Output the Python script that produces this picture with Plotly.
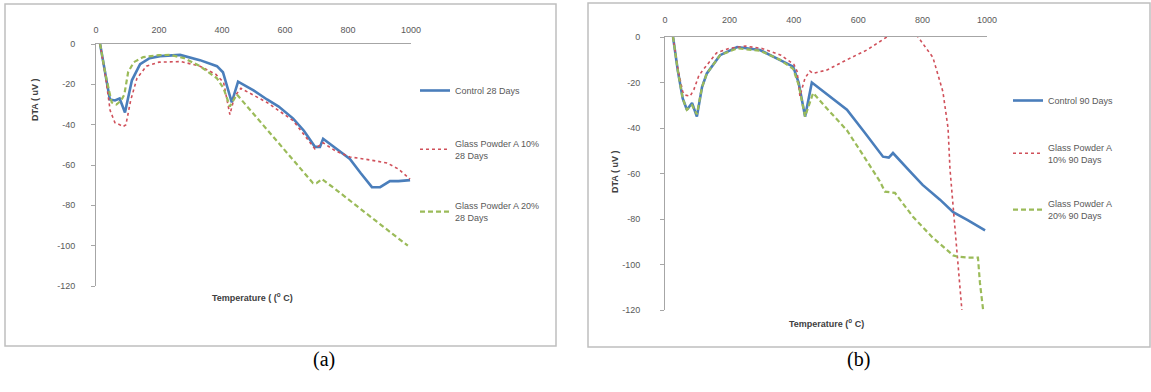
import plotly.graph_objects as go

# ---------------- data: panel (a) 28 days ----------------
temp_a_control = [13, 30, 44, 60, 75, 92, 105, 114, 140, 170, 203, 267, 330, 384, 403, 415, 431, 451,
                  500, 543, 580, 626, 660, 695, 711, 721, 760, 806, 840, 876, 902, 933, 960, 997]
dta_a_control = [0, -14, -27.5, -28, -27, -34, -24, -18, -10, -7, -6, -5.4, -8, -11, -14, -20, -29, -18.7,
                 -23, -27.5, -31, -37, -43, -51, -51, -47, -51.5, -57, -64, -71, -71, -68, -68, -67.5]

temp_a_gp10 = [13, 30, 45, 60, 75, 86, 95, 110, 130, 160, 200, 270, 330, 380, 405, 425, 440, 460,
               543, 626, 695, 721, 760, 806, 870, 924, 960, 997]
dta_a_gp10 = [0, -16, -33, -39, -40, -41, -40, -28, -17, -11, -9, -8.7, -11, -15, -19, -35, -26, -22,
              -29, -38, -52, -49, -53, -56, -57.5, -59, -62, -67]

temp_a_gp20 = [13, 30, 50, 65, 80, 90, 102, 120, 150, 200, 235, 280, 330, 384, 405, 425, 447, 500,
               560, 620, 689, 700, 717, 760, 820, 880, 940, 990]
dta_a_gp20 = [0, -15, -29, -30, -28, -25, -14, -9, -6.5, -5.5, -5.4, -7, -11, -17, -22, -31, -25, -34.6,
              -45.5, -56.5, -69, -69, -67, -72, -79.5, -86.7, -94, -100]

# ---------------- data: panel (b) 90 days ----------------
temp_b_control = [25, 40, 55, 68, 84, 99, 115, 130, 171, 224, 295, 357, 398, 415, 435, 456, 500, 565,
                  620, 677, 695, 708, 760, 800, 854, 895, 940, 994]
dta_b_control = [0, -15, -27, -32, -29, -35, -22, -16, -8, -4.4, -5.7, -10, -13, -20, -35, -20, -25, -32,
                 -42, -52.6, -53, -51, -59, -65, -71.5, -77, -80.5, -85]

temp_b_gp10 = [25, 40, 55, 62, 78, 90, 105, 118, 160, 200, 250, 300, 360, 400, 410, 419, 435, 450, 460,
               503, 565, 627, 689, 735, 786, 810, 832, 863, 879, 885, 895, 907, 922]
dta_b_gp10 = [0, -14, -24, -25.5, -26, -23, -17, -14.5, -7, -5, -4, -5, -8, -12, -15, -26, -18, -15, -16,
              -14.5, -10, -5.7, 0, 6, 0, -5, -9, -24, -40, -58, -74, -95, -120]

temp_b_gp20 = [25, 40, 55, 68, 84, 99, 115, 130, 171, 224, 295, 357, 398, 415, 435, 460, 500, 565,
               620, 668, 683, 714, 770, 830, 895, 907, 940, 972, 978, 988]
dta_b_gp20 = [0, -15, -27, -32, -30, -34, -22, -16, -8, -5, -6, -10, -14, -21, -35, -24.6, -31, -41,
              -53, -63.6, -68, -68.5, -79, -88, -96, -96.5, -97, -97, -108, -120]

names_a = ["Control 28 Days", "Glass Powder A 10%<br>28 Days", "Glass Powder A 20%<br>28 Days"]
names_b = ["Control 90 Days", "Glass Powder A<br>10% 90 Days", "Glass Powder A<br>20% 90 Days"]
x_ticks = [0, 200, 400, 600, 800, 1000]
x_ticktext = ["0", "200", "400", "600", "800", "1000"]
y_ticks = [0, -20, -40, -60, -80, -100, -120]
y_ticktext = ["0", "-20", "-40", "-60", "-80", "-100", "-120"]

W, H = 1151, 392
def px(x): return x / W
def py(y): return 1 - y / H

BLUE = "#4A7EBB"
RED = "#D0505A"
GREEN = "#9BBB59"
TXT = "#595959"
FONT = "Liberation Sans"

fig = go.Figure()

styles = [dict(color=BLUE, width=2.6, dash="solid"),
          dict(color=RED, width=1.6, dash="dot"),
          dict(color=GREEN, width=2.2, dash="5px,3px")]

for (xs, ys, nm, st) in zip([temp_a_control, temp_a_gp10, temp_a_gp20],
                            [dta_a_control, dta_a_gp10, dta_a_gp20], names_a, styles):
    fig.add_trace(go.Scatter(x=xs, y=ys, name=nm, mode="lines", line=st,
                             xaxis="x", yaxis="y", legend="legend", legendgroup=nm))
for (xs, ys, nm, st) in zip([temp_b_control, temp_b_gp10, temp_b_gp20],
                            [dta_b_control, dta_b_gp10, dta_b_gp20], names_b, styles):
    fig.add_trace(go.Scatter(x=xs, y=ys, name=nm, mode="lines", line=st,
                             xaxis="x2", yaxis="y2", legend="legend2", legendgroup=nm))

xax = dict(range=[0, 1000], tickvals=x_ticks, ticktext=x_ticktext, side="top", showgrid=False,
           zeroline=False, automargin=False,
           showline=True, linecolor="#A6A6A6", linewidth=1, ticks="",
           tickfont=dict(family=FONT, size=9, color=TXT))
yax = dict(range=[-120, 0], tickvals=y_ticks, ticktext=y_ticktext, showgrid=False, zeroline=False,
           automargin=False,
           showline=True, linecolor="#A6A6A6", linewidth=1, ticks="outside", ticklen=4,
           tickcolor="#A6A6A6", tickfont=dict(family=FONT, size=9, color=TXT))

fig.update_layout(
    width=W, height=H, margin=dict(l=0, r=0, t=0, b=0, autoexpand=False),
    paper_bgcolor="white", plot_bgcolor="white",
    xaxis=dict(xax, domain=[px(96), px(411)], anchor="y", ticklabelstandoff=6),
    yaxis=dict(yax, domain=[py(286), py(44)], anchor="x", ticklabelstandoff=14),
    xaxis2=dict(xax, domain=[px(665), px(987)], anchor="y2", ticklabelstandoff=9),
    yaxis2=dict(yax, domain=[py(310), py(37)], anchor="x2", ticklabelstandoff=18),
    legend=dict(x=px(415), y=py(76), xanchor="left", yanchor="top", bgcolor="rgba(0,0,0,0)",
                font=dict(family=FONT, size=9, color=TXT), tracegroupgap=36, itemwidth=30),
    legend2=dict(x=px(1008), y=py(86), xanchor="left", yanchor="top", bgcolor="rgba(0,0,0,0)",
                 font=dict(family=FONT, size=9, color=TXT), tracegroupgap=30, itemwidth=30),
    showlegend=True,
)

# panel frames
fig.add_shape(type="rect", xref="paper", yref="paper", x0=px(5), x1=px(556), y0=py(346), y1=py(4),
              line=dict(color="#BFBFBF", width=1.5), layer="below")
fig.add_shape(type="rect", xref="paper", yref="paper", x0=px(588), x1=px(1150), y0=py(347), y1=py(3),
              line=dict(color="#BFBFBF", width=1.5), layer="below")

ann = [
    dict(text="<b>DTA ( uV )</b>", x=px(35), y=py(100), textangle=-90),
    dict(text="<b>Temperature ( (<sup>o</sup> C)</b>", x=px(252), y=py(297)),
    dict(text="<b>DTA ( uV )</b>", x=px(615), y=py(172), textangle=-90),
    dict(text="<b>Temperature (<sup>o</sup> C)</b>", x=px(826), y=py(323)),
]
for a in ann:
    fig.add_annotation(xref="paper", yref="paper", showarrow=False, xanchor="center", yanchor="middle",
                       font=dict(family=FONT, size=9, color="#404040"), **a)

fig.add_annotation(text="(a)", xref="paper", yref="paper", x=px(311), y=py(373), showarrow=False,
                   font=dict(family="Liberation Serif", size=20, color="black"))
fig.add_annotation(text="(b)", xref="paper", yref="paper", x=px(872), y=py(373), showarrow=False,
                   font=dict(family="Liberation Serif", size=20, color="black"))

fig.write_html("out.html", config={"displayModeBar": False},
               post_script="document.body.style.margin='0';document.body.style.overflow='hidden';")
